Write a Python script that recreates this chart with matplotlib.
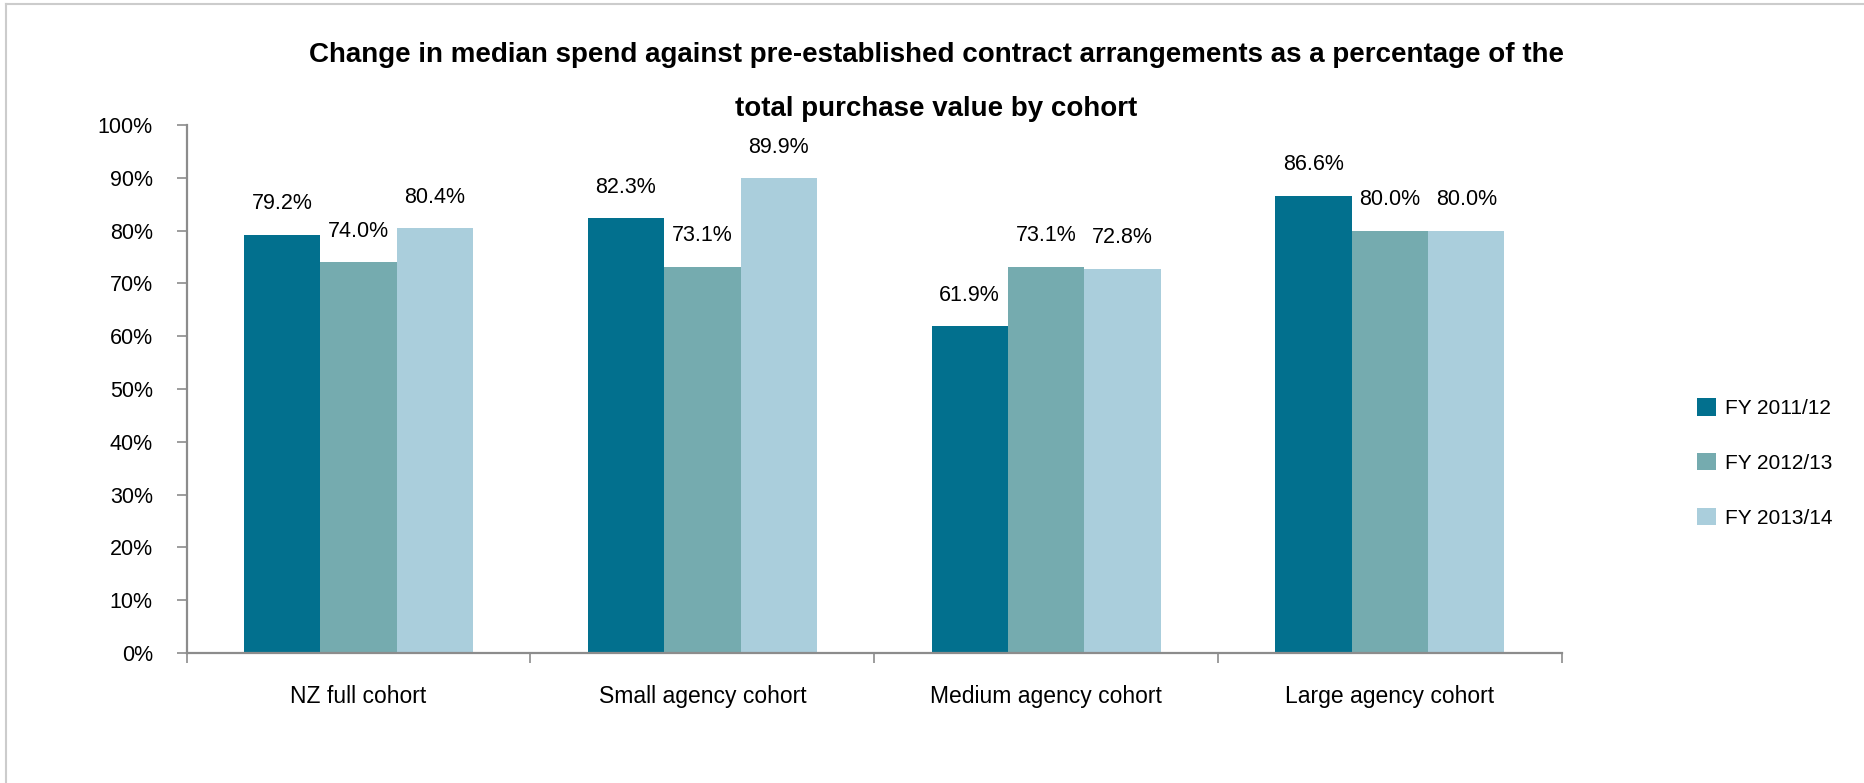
import numpy as np
import matplotlib
matplotlib.use("Agg")
import matplotlib.pyplot as plt
from matplotlib.lines import Line2D

plt.rcParams['font.family'] = ['Liberation Sans', 'DejaVu Sans']

cohorts = ["NZ full cohort", "Small agency cohort", "Medium agency cohort", "Large agency cohort"]
years = ["FY 2011/12", "FY 2012/13", "FY 2013/14"]
fy_2011 = [79.2, 82.3, 61.9, 86.6]
fy_2012 = [74.0, 73.1, 73.1, 80.0]
fy_2013 = [80.4, 89.9, 72.8, 80.0]
colors = ["#02708E", "#75ABAF", "#AACEDC"]
yticks = [0, 10, 20, 30, 40, 50, 60, 70, 80, 90, 100]

fig = plt.figure(figsize=(18.65, 7.83), dpi=100)
ax = fig.add_axes([0.1001, 0.166, 0.7373, 0.6744])

x = np.arange(len(cohorts))
w = 2 / 9
for i, (vals, col, lab) in enumerate(zip([fy_2011, fy_2012, fy_2013], colors, years)):
    bars = ax.bar(x + (i - 1) * w, vals, width=w, color=col, label=lab)
    for b, v in zip(bars, vals):
        ax.annotate(f"{v:.1f}%", (b.get_x() + b.get_width() / 2, v),
                    xytext=(0, 18.4), textcoords="offset points",
                    ha="center", va="baseline", fontsize=15.5)

ax.set_xlim(-0.5, 3.5)
ax.set_ylim(0, 100)
ax.set_yticks(yticks)
ax.set_yticklabels([f"{t}%" for t in yticks])
ax.set_xticks(np.arange(-0.5, 4.0, 1.0))
ax.set_xticklabels([])
ax.set_xticks(x, minor=True)
ax.set_xticklabels(cohorts, minor=True)

for s in ["top", "right"]:
    ax.spines[s].set_visible(False)
for s in ["left", "bottom"]:
    ax.spines[s].set_color("#8C8C8C")
    ax.spines[s].set_linewidth(1.6)
ax.tick_params(axis="y", length=7.4, width=1.2, color="#8C8C8C", labelsize=15.5, pad=17)
ax.tick_params(axis="x", which="major", length=7.4, width=1.2, color="#8C8C8C")
ax.tick_params(axis="x", which="minor", length=0, labelsize=16.5, pad=23)

fig.text(0.502, 0.9204, "Change in median spend against pre-established contract arrangements as a percentage of the",
         ha="center", va="baseline", fontsize=20, fontweight="bold")
fig.text(0.502, 0.8519, "total purchase value by cohort",
         ha="center", va="baseline", fontsize=20, fontweight="bold")

fig.legend(loc="center left", bbox_to_anchor=(0.910, 0.4087), frameon=False,
           fontsize=15, handlelength=0.91, handleheight=0.91, handletextpad=0.45,
           labelspacing=1.67, borderpad=0, borderaxespad=0)

# light frame around the chart area
fig.add_artist(Line2D([0.003, 0.003], [0, 0.9945], color="#CCCCCC", lw=1.5, transform=fig.transFigure))
fig.add_artist(Line2D([0.003, 1.0], [0.9945, 0.9945], color="#CCCCCC", lw=1.5, transform=fig.transFigure))

fig.savefig("out.png", dpi=100)
